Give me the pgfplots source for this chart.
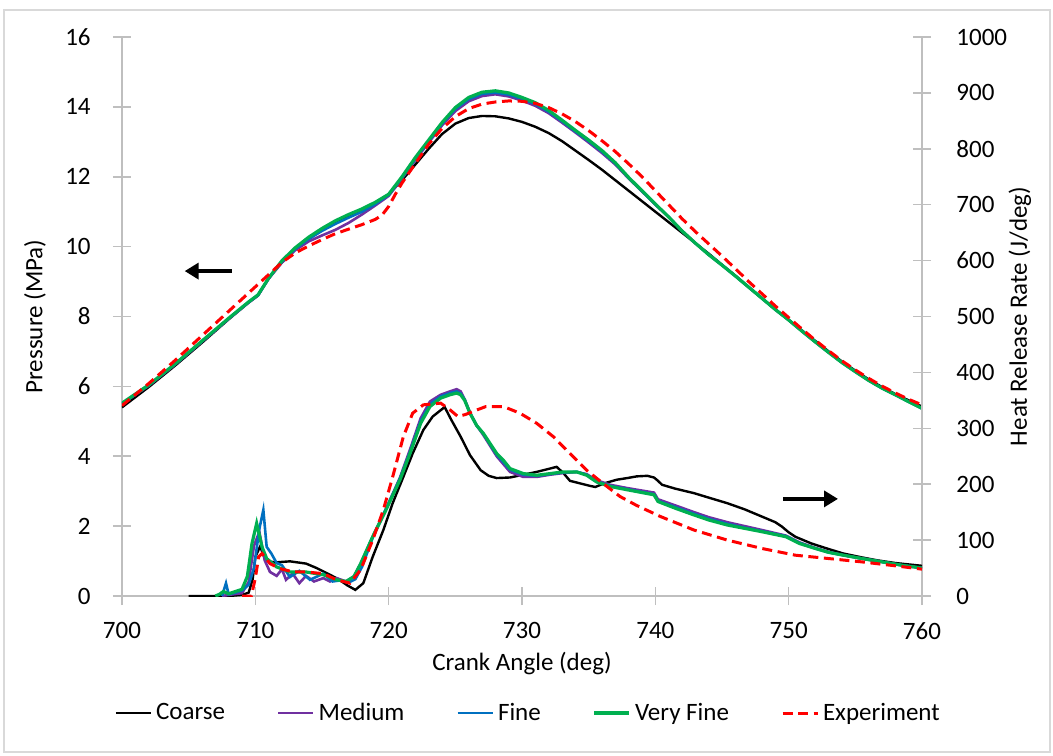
\documentclass[border=0pt]{standalone}
\usepackage{fontspec}
\setmainfont{Carlito}
\usepackage{pgfplots}
\pgfplotsset{compat=1.18}
\usetikzlibrary{arrows.meta}
\definecolor{cMed}{HTML}{7030A0}
\definecolor{cFine}{HTML}{0070C0}
\definecolor{cVF}{HTML}{00B050}
\definecolor{cExp}{HTML}{FF0000}
\definecolor{axgray}{HTML}{BFBFBF}
\definecolor{bordergray}{HTML}{D9D9D9}
\newcommand{\fs}{\fontsize{12.5}{15}\selectfont}
\pgfplotsset{
  common/.style={
    scale only axis, width=400pt, height=279.5pt, at={(0,0)}, anchor=south west,
    xmin=700, xmax=760,
    /pgf/number format/assume math mode=true,
    /pgf/number format/1000 sep={},
    tick label style={font=\fs, black},
    label style={font=\fs},
    axis line style={axgray, line width=0.8pt},
    tick style={axgray, line width=0.8pt},
    major tick length=9pt, tick align=center,
  },
  coarse/.style={black, line width=1.2pt},
  medium/.style={cMed, line width=1.3pt},
  fine/.style={cFine, line width=1.3pt},
  vfine/.style={cVF, line width=1.6pt},
  expt/.style={cExp, line width=1.5pt, dash pattern=on 5pt off 2.8pt},
}
\begin{document}
\begin{tikzpicture}
\begin{axis}[common,
  axis x line*=bottom, axis y line*=left,
  ymin=0, ymax=16, ytick={0,2,...,16},
  xtick={700,710,...,760},
  xlabel={Crank Angle (deg)}, ylabel={Pressure (MPa)},
  xlabel style={at={(axis description cs:0.5,-0.1199)}, anchor=center},
  ylabel style={at={(axis description cs:-0.10875,0.5)}, anchor=center},
  yticklabel style={anchor=east, inner sep=0pt, xshift=-11pt},
  xticklabel style={anchor=north, inner sep=0pt, yshift=-8.5pt},
]
% Coarse pressure
\addplot[coarse] coordinates {
(700,5.40)(702,5.98)(704,6.6)(706,7.25)(708,7.92)(709.5,8.4)(710.2,8.6)(711,9.1)(712,9.55)(713,9.92)(714,10.22)(715,10.47)(716,10.7)(717,10.88)(718,11.05)(719,11.25)(720,11.5)(721,11.9)(722,12.35)(723,12.8)(724,13.22)(725,13.52)(726,13.68)(727,13.74)(728,13.73)(729,13.67)(730,13.57)(731,13.43)(732,13.25)(733,13.02)(734,12.75)(735,12.48)(736,12.2)(737,11.9)(738,11.6)(739,11.3)(740,11.0)(741,10.7)(742,10.4)(743,10.1)(744,9.8)(745,9.48)(746,9.17)(747,8.84)(748,8.52)(749,8.2)(750,7.9)(751,7.6)(752,7.3)(753,7.0)(754,6.71)(755,6.45)(756,6.2)(757,5.98)(758,5.78)(759,5.6)(760,5.42)};
% Medium pressure
\addplot[medium] coordinates {
(700,5.5)(702,6.02)(704,6.63)(706,7.28)(708,7.93)(709.5,8.4)(710.2,8.6)(711,9.08)(712,9.55)(713,9.9)(714,10.15)(715,10.32)(716,10.48)(717,10.68)(718,10.92)(719,11.18)(720,11.45)(721,11.95)(722,12.48)(723,12.98)(724,13.47)(725,13.88)(726,14.16)(727,14.31)(728,14.36)(729,14.3)(730,14.18)(731,14.03)(732,13.82)(733,13.55)(734,13.27)(735,12.98)(736,12.68)(737,12.35)(738,11.95)(739,11.58)(740,11.2)(741,10.85)(742,10.45)(743,10.1)(744,9.77)(745,9.47)(746,9.16)(747,8.84)(748,8.52)(749,8.2)(750,7.9)(751,7.58)(752,7.27)(753,6.97)(754,6.68)(755,6.42)(756,6.17)(757,5.95)(758,5.76)(759,5.56)(760,5.37)};
% Fine pressure
\addplot[fine] coordinates {
(700,5.51)(702,6.03)(704,6.64)(706,7.29)(708,7.94)(709.5,8.41)(710.2,8.61)(711,9.09)(712,9.58)(713,9.94)(714,10.22)(715,10.45)(716,10.65)(717,10.83)(718,11.0)(719,11.22)(720,11.48)(721,11.98)(722,12.52)(723,13.02)(724,13.52)(725,13.94)(726,14.22)(727,14.37)(728,14.41)(729,14.35)(730,14.23)(731,14.08)(732,13.86)(733,13.59)(734,13.3)(735,13.02)(736,12.72)(737,12.38)(738,11.97)(739,11.59)(740,11.21)(741,10.85)(742,10.45)(743,10.1)(744,9.77)(745,9.47)(746,9.16)(747,8.84)(748,8.52)(749,8.2)(750,7.9)(751,7.58)(752,7.27)(753,6.97)(754,6.68)(755,6.42)(756,6.17)(757,5.95)(758,5.76)(759,5.56)(760,5.37)};
% Very fine pressure
\addplot[vfine] coordinates {
(700,5.52)(702,6.04)(704,6.65)(706,7.3)(708,7.95)(709.5,8.42)(710.2,8.62)(711,9.1)(712,9.6)(713,9.97)(714,10.27)(715,10.52)(716,10.74)(717,10.92)(718,11.08)(719,11.27)(720,11.5)(721,12.0)(722,12.55)(723,13.05)(724,13.55)(725,13.98)(726,14.27)(727,14.42)(728,14.46)(729,14.4)(730,14.27)(731,14.12)(732,13.9)(733,13.62)(734,13.33)(735,13.05)(736,12.75)(737,12.4)(738,11.98)(739,11.6)(740,11.22)(741,10.85)(742,10.45)(743,10.1)(744,9.77)(745,9.47)(746,9.16)(747,8.84)(748,8.52)(749,8.2)(750,7.9)(751,7.58)(752,7.27)(753,6.97)(754,6.68)(755,6.42)(756,6.17)(757,5.95)(758,5.76)(759,5.56)(760,5.37)};
% Experiment pressure
\addplot[expt] coordinates {
(700,5.45)(702,6.08)(704,6.75)(706,7.45)(708,8.15)(710,8.85)(711,9.2)(712,9.55)(713,9.82)(714,10.02)(715,10.2)(716,10.37)(717,10.5)(718,10.63)(719,10.78)(719.5,10.9)(720,11.15)(720.5,11.5)(721,11.82)(722,12.38)(723,12.93)(724,13.38)(725,13.72)(726,13.95)(727,14.08)(728,14.14)(729,14.17)(730,14.16)(731,14.1)(732,13.98)(733,13.8)(734,13.58)(735,13.32)(736,13.03)(737,12.72)(738,12.37)(739,12.0)(740,11.6)(741,11.2)(742,10.8)(743,10.43)(744,10.08)(745,9.73)(746,9.37)(747,9.0)(748,8.65)(749,8.3)(750,7.97)(751,7.64)(752,7.32)(753,7.02)(754,6.73)(755,6.47)(756,6.23)(757,6.01)(758,5.81)(759,5.63)(760,5.47)};
\draw[black, line width=2pt, -{Triangle[length=7pt,width=8pt]}] (axis cs:708.25,9.30) -- (axis cs:704.7,9.30);
\draw[black, line width=2pt, -{Triangle[length=7pt,width=8pt]}] (axis cs:749.6,2.78) -- (axis cs:753.7,2.78);
\end{axis}
\begin{axis}[common,
  axis x line=none, axis y line*=right,
  ymin=0, ymax=1000, ytick={0,100,...,1000},
  ylabel={Heat Release Rate (J/deg)},
  ylabel style={at={(axis description cs:1.1225,0.5)}, anchor=center},
  yticklabel style={anchor=west, inner sep=0pt, xshift=12.5pt},
  legend columns=5,
  legend style={at={(axis description cs:0.509,-0.2093)}, anchor=center, draw=none, fill=none, font=\fs,
    /tikz/every even column/.append style={column sep=24pt}},
  legend image code/.code={\draw[#1] (0pt,0pt) -- (17.5pt,0pt);},
]
\addplot[coarse] coordinates {
(705,0)(706,0)(707,0)(708,0)(708.5,1)(709,2)(709.5,6)(709.8,30)(710,70)(710.35,88)(710.7,70)(711,62)(711.5,60)(712,61)(712.6,62)(713.2,60)(713.8,58)(714.6,50)(715.1,44)(715.6,38)(716.3,29)(716.9,19)(717.5,11)(718.1,23)(718.8,70)(719.6,118)(720.3,166)(721.1,213)(721.8,255)(722.6,297)(723.3,321)(724.2,338)(724.7,315)(725.4,285)(726.1,252)(726.9,225)(727.5,215)(728.1,211)(729.1,212)(730.1,217)(731.1,222)(732.1,228)(732.6,231)(733.1,220)(733.6,206)(734.1,203)(735.1,197)(735.5,195)(736.1,201)(737.1,208)(737.9,211)(738.6,214)(739.4,215)(739.9,212)(740.2,206)(740.5,199)(741.5,192)(742.9,184)(744,176)(745.4,166)(746.7,155)(748,142)(749,132)(749.5,124)(750,114)(750.5,106)(751.7,94)(753,84)(754.1,76)(755.5,69)(756.6,64)(758,59)(760,54)};
\addlegendentry{Coarse}
\addplot[medium] coordinates {
(707.5,0)(708,2)(709,5)(709.5,25)(709.9,90)(710.3,115)(710.7,64)(711.1,43)(711.6,36)(712.0,48)(712.3,29)(712.8,40)(713.3,23)(713.8,36)(714.4,26)(715.1,32)(715.6,26)(716.1,32)(716.8,26)(717.4,35)(717.9,58)(718.8,106)(719.8,156)(720.85,212)(721.6,262)(722.4,318)(723.1,348)(723.9,360)(724.6,366)(725.1,370)(725.4,366)(725.7,352)(726.1,328)(726.6,305)(727.1,288)(728.1,250)(729.1,222)(730.1,213)(731.1,213)(732.1,217)(733.1,220)(734.1,222)(734.85,218)(735.6,207)(736.6,199)(737.9,193)(739.9,185)(740.2,173)(741.5,162)(742.9,150)(744,141)(745.4,132)(746.7,125)(748,118)(749.8,108)(750.8,96)(752,86)(753,79)(754.1,73)(755.5,67)(757,61)(758.5,55)(760,50)};
\addlegendentry{Medium}
\addplot[fine] coordinates {
(707.5,0)(707.8,23)(708,3)(708.5,6)(709,10)(709.5,20)(709.9,50)(710.3,120)(710.6,154)(710.85,88)(711.2,76)(711.6,59)(712.0,55)(712.6,34)(713.3,45)(714.1,29)(715.1,40)(715.8,26)(716.4,28)(717,24)(717.5,30)(718,52)(718.8,104)(719.8,156)(720.85,210)(721.6,258)(722.4,313)(723.1,343)(723.9,357)(724.6,363)(725.1,366)(725.4,362)(725.7,351)(726.1,327)(726.6,305)(727.1,290)(728.1,253)(729.1,226)(730.1,217)(731.1,215)(732.1,218)(733.1,221)(734.1,222)(734.85,217)(735.6,205)(736.6,197)(737.9,191)(739.9,182)(740.2,170)(741.5,159)(742.9,147)(744,138)(745.4,129)(746.7,122)(748,116)(749.8,107)(750.8,95)(752,85)(753,78)(754.1,73)(755.5,67)(757,61)(758.5,55)(760,50)};
\addlegendentry{Fine}
\addplot[vfine] coordinates {
(707,0)(707.3,3)(707.6,8)(708,4)(708.5,8)(709,12)(709.4,35)(709.75,94)(710.1,130)(710.5,88)(710.85,67)(711.6,52)(712.6,43)(713.8,43)(715.1,38)(716.1,29)(716.8,26)(717.4,35)(717.9,58)(718.8,106)(719.8,154)(720.85,208)(721.6,255)(722.4,309)(723.1,339)(723.9,354)(724.6,360)(725.1,363)(725.4,360)(725.7,350)(726.1,327)(726.6,305)(727.1,291)(728.1,255)(728.6,243)(729.1,228)(730.1,219)(731.1,216)(732.1,219)(733.1,222)(734.1,222)(734.85,216)(735.6,204)(736.6,196)(737.9,190)(739.9,181)(740.2,169)(741.5,157)(742.9,145)(744,136)(745.4,127)(746.7,121)(748,115)(749.8,106)(750.8,94)(752,85)(753,78)(754.1,73)(755.5,67)(757,61)(758.5,55)(760,50)};
\addlegendentry{Very Fine}
\addplot[expt] coordinates {
(709,0)(709.7,0)(710,32)(710.25,70)(710.5,76)(711.1,58)(711.85,49)(712.85,43)(713.8,43)(715.1,40)(716.1,29)(717.1,23)(717.9,47)(718.8,100)(719.6,154)(720.3,213)(721.1,285)(721.8,327)(722.6,342)(723.9,345)(724.6,333)(725.2,321)(725.8,325)(726.3,330)(727.3,339)(728.6,339)(729.85,327)(731.1,309)(732.35,285)(733.6,255)(734.85,225)(736.1,201)(737.35,178)(738.6,162)(740.4,142)(742.9,118)(745.4,100)(748,85)(750.5,73)(753,67)(755.5,61)(758,54)(760,48)};
\addlegendentry{Experiment}
\end{axis}
\pgfresetboundingbox
\draw[bordergray, line width=0.6pt] (-59pt,-78pt) rectangle (464pt,293pt);
\useasboundingbox (-61pt,-79.5pt) rectangle (465.5pt,298pt);
\end{tikzpicture}
\end{document}
